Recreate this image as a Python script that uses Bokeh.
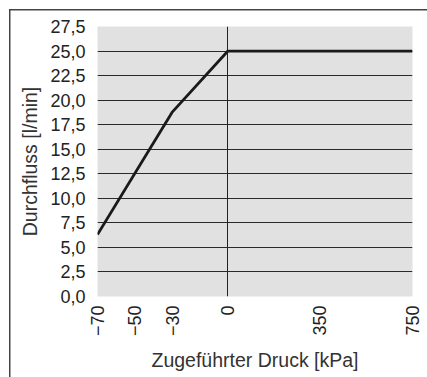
import math
import numpy as np
from bokeh.plotting import figure
from bokeh.models import FixedTicker
from bokeh.embed import file_html
from bokeh.resources import INLINE

# data
pressure_kpa = [-70, -30, 0, 750]
flow_lpm = [6.3, 18.75, 25.0, 25.0]

x_tick_values = [-70, -50, -30, 0, 350, 750]
x_tick_labels = ["\u221270", "\u221250", "\u221230", "0", "350", "750"]
y_tick_values = [0.0, 2.5, 5.0, 7.5, 10.0, 12.5, 15.0, 17.5, 20.0, 22.5, 25.0, 27.5]
y_tick_labels = ["0,0", "2,5", "5,0", "7,5", "10,0", "12,5", "15,0", "17,5",
                 "20,0", "22,5", "25,0", "27,5"]

# piecewise (non-linear) x scale of the original chart: breakpoints
axis_breaks_data = [-70, 0, 350, 750]
axis_breaks_pos = [-70, 0, 49.3, 99.1]

def xmap(v):
    return list(np.interp(v, axis_breaks_data, axis_breaks_pos))

FONT = "Liberation Sans"

p = figure(width=427, height=377, output_backend="svg", toolbar_location=None,
           x_range=(axis_breaks_pos[0], axis_breaks_pos[-1]), y_range=(0, 27.5),
           min_border_left=97, min_border_right=15, min_border_top=26, min_border_bottom=81)

p.background_fill_color = "#e1e1e1"
p.border_fill_color = None
p.outline_line_color = None
# outer frame of the picture: only its left and top edges are visible
p.styles = {
    "background": "linear-gradient(#444, #444) 9px 9px / 1.5px 100% no-repeat, "
                  "linear-gradient(#444, #444) 9px 9px / 100% 1.5px no-repeat, white"
}

# grid
p.xgrid.ticker = FixedTicker(ticks=[0])
p.xgrid.grid_line_color = "#222222"
p.xgrid.grid_line_width = 1
p.ygrid.ticker = FixedTicker(ticks=y_tick_values)
p.ygrid.grid_line_color = "#2a2a2a"
p.ygrid.grid_line_width = 1

# x axis
xt = xmap(x_tick_values)
p.xaxis.ticker = FixedTicker(ticks=xt)
p.xaxis.major_label_overrides = {float(t): l for t, l in zip(xt, x_tick_labels)}
p.xaxis.major_label_orientation = math.pi / 2
p.xaxis.axis_label = "Zugeführter Druck [kPa]"

# y axis
p.yaxis.ticker = FixedTicker(ticks=y_tick_values)
p.yaxis.major_label_overrides = {float(t): l for t, l in zip(y_tick_values, y_tick_labels)}
p.yaxis.axis_label = "Durchfluss [l/min]"

for ax in (p.xaxis[0], p.yaxis[0]):
    ax.axis_line_color = None
    ax.major_tick_line_color = None
    ax.minor_tick_line_color = None
    ax.major_tick_in = 0
    ax.major_tick_out = 0
    ax.minor_tick_in = 0
    ax.minor_tick_out = 0
    ax.major_label_text_font = FONT
    ax.major_label_text_font_size = "18px"
    ax.major_label_text_color = "#222222"
    ax.axis_label_text_font = FONT
    ax.axis_label_text_font_size = "19.5px"
    ax.axis_label_text_font_style = "normal"
    ax.axis_label_text_color = "#333333"

p.xaxis.major_label_standoff = 9
p.xaxis.axis_label_standoff = 10
p.yaxis.major_label_standoff = 12
p.yaxis.axis_label_standoff = 6

p.line(xmap(pressure_kpa), flow_lpm, line_color="#1a1a1a", line_width=2.8)

open("out.html", "w").write(file_html(p, INLINE))
